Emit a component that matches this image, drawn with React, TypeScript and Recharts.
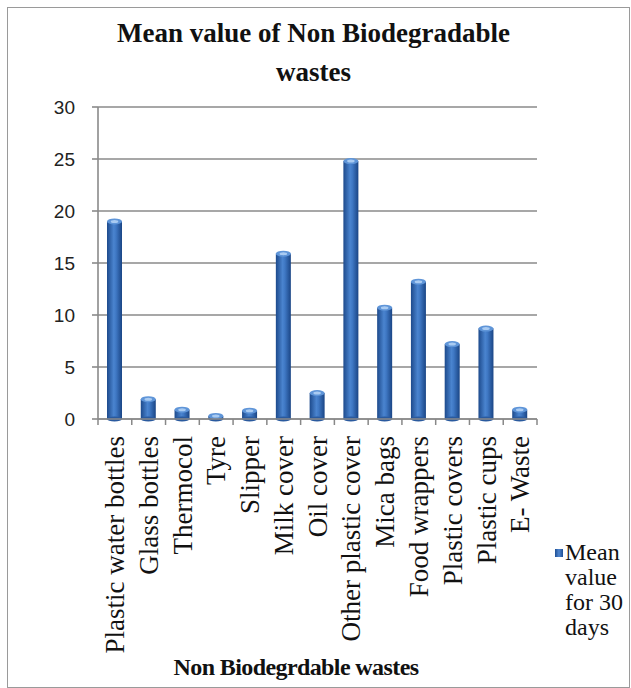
import { BarChart, Bar, XAxis, YAxis, CartesianGrid } from 'recharts'

const categories = [
  'Plastic water bottles',
  'Glass bottles',
  'Thermocol',
  'Tyre',
  'Slipper',
  'Milk cover',
  'Oil cover',
  'Other plastic cover',
  'Mica bags',
  'Food wrappers',
  'Plastic covers',
  'Plastic cups',
  'E- Waste',
]
const meanValues = [19, 1.9, 0.9, 0.3, 0.8, 15.9, 2.5, 24.8, 10.7, 13.2, 7.2, 8.7, 0.9]
const yTicks = [0, 5, 10, 15, 20, 25, 30]
const seriesName = 'Mean value for 30 days'

const data = categories.map((name, i) => ({ name, value: meanValues[i] }))

const W = 631
const H = 688
const M = { top: 107, right: 94, left: 50, bottom: 28 }
const Y_W = 48
const X_H = 241
const BAND = (W - M.left - Y_W - M.right) / categories.length
const SERIF = '"Liberation Serif", "Times New Roman", serif'

function CategoryTick(props: any) {
  const { x, payload, index } = props
  const axisY = H - M.bottom - X_H
  return (
    <g>
      <line x1={x - BAND / 2} y1={axisY} x2={x - BAND / 2} y2={axisY + 6} stroke="#888" strokeWidth={1.5} />
      {index === categories.length - 1 && (
        <line x1={x + BAND / 2} y1={axisY} x2={x + BAND / 2} y2={axisY + 6} stroke="#888" strokeWidth={1.5} />
      )}
      <text
        x={x}
        y={axisY + 17}
        dy="0.34em"
        transform={`rotate(-90, ${x}, ${axisY + 17})`}
        textAnchor="end"
        fontFamily={SERIF}
        fontSize={27}
        fill="#111"
      >
        {payload.value}
      </text>
    </g>
  )
}

function Cylinder(props: any) {
  const { x, y, width, height } = props
  if (height == null || height <= 0) return null
  return (
    <g>
      <rect x={x} y={y} width={width} height={height} fill="url(#cyl)" />
      <ellipse cx={x + width / 2} cy={y + height} rx={width / 2} ry={2.5} fill="#2a5a9e" />
      <ellipse cx={x + width / 2} cy={y} rx={width / 2} ry={3} fill="#5f95d8" />
      <ellipse cx={x + width / 2} cy={y} rx={width / 4} ry={1.5} fill="#a9cbf2" />
    </g>
  )
}

export default function App() {
  return (
    <div style={{ position: 'absolute', left: 0, top: 0, width: W, height: H, background: '#fff', overflow: 'hidden' }}>
      <div
        style={{
          position: 'absolute',
          left: 7,
          top: 7,
          width: 621,
          height: 679,
          border: '1.5px solid #9a9a9a',
        }}
      />
      <div
        style={{
          position: 'absolute',
          left: 0,
          width: W - 4,
          top: 14,
          textAlign: 'center',
          fontFamily: SERIF,
          fontWeight: 'bold',
          fontSize: 27,
          lineHeight: '39px',
          color: '#111',
          zIndex: 2,
        }}
      >
        Mean value of Non Biodegradable
        <br />
        wastes
      </div>
      <div
        style={{
          position: 'absolute',
          left: 166,
          width: 260,
          top: 652,
          textAlign: 'center',
          fontFamily: SERIF,
          fontWeight: 'bold',
          fontSize: 24,
          letterSpacing: -0.6,
          lineHeight: '30px',
          color: '#111',
          zIndex: 2,
        }}
      >
        Non Biodegrdable wastes
      </div>
      <div
        style={{
          position: 'absolute',
          left: 555,
          top: 540,
          display: 'flex',
          fontFamily: SERIF,
          fontSize: 24,
          lineHeight: '25px',
          color: '#111',
          zIndex: 2,
        }}
      >
        <div
          style={{
            width: 8,
            height: 8,
            marginTop: 9,
            marginRight: 2,
            flexShrink: 0,
            background: 'linear-gradient(90deg, #1f4f94, #4f86cf, #1f4f94)',
          }}
        />
        <div style={{ width: 70 }}>
          {seriesName.split(' ').slice(0, 1).join(' ')}
          <br />
          {seriesName.split(' ').slice(1, 2).join(' ')}
          <br />
          {seriesName.split(' ').slice(2, 4).join(' ')}
          <br />
          {seriesName.split(' ').slice(4).join(' ')}
        </div>
      </div>
      <BarChart width={W} height={H} data={data} margin={M}>
        <defs>
          <linearGradient id="cyl" x1="0" y1="0" x2="1" y2="0">
            <stop offset="0%" stopColor="#1d4a8c" />
            <stop offset="45%" stopColor="#4a84cf" />
            <stop offset="60%" stopColor="#3f78c4" />
            <stop offset="100%" stopColor="#1a4585" />
          </linearGradient>
        </defs>
        <CartesianGrid vertical={false} stroke="#8a8a8a" strokeWidth={1.6} />
        <XAxis
          dataKey="name"
          interval={0}
          height={X_H}
          tickLine={false}
          axisLine={{ stroke: '#8a8a8a', strokeWidth: 1.6 }}
          tick={<CategoryTick />}
        />
        <YAxis
          width={Y_W}
          domain={[0, 30]}
          ticks={yTicks}
          interval={0}
          tickSize={6}
          tickMargin={17}
          axisLine={{ stroke: '#8a8a8a', strokeWidth: 1.6 }}
          tickLine={{ stroke: '#8a8a8a', strokeWidth: 1.6 }}
          tick={{ fontFamily: '"Liberation Sans", Arial, sans-serif', fontSize: 19, fill: '#222' }}
        />
        <Bar dataKey="value" name={seriesName} barSize={15} shape={<Cylinder />} isAnimationActive={false} />
      </BarChart>
    </div>
  )
}
